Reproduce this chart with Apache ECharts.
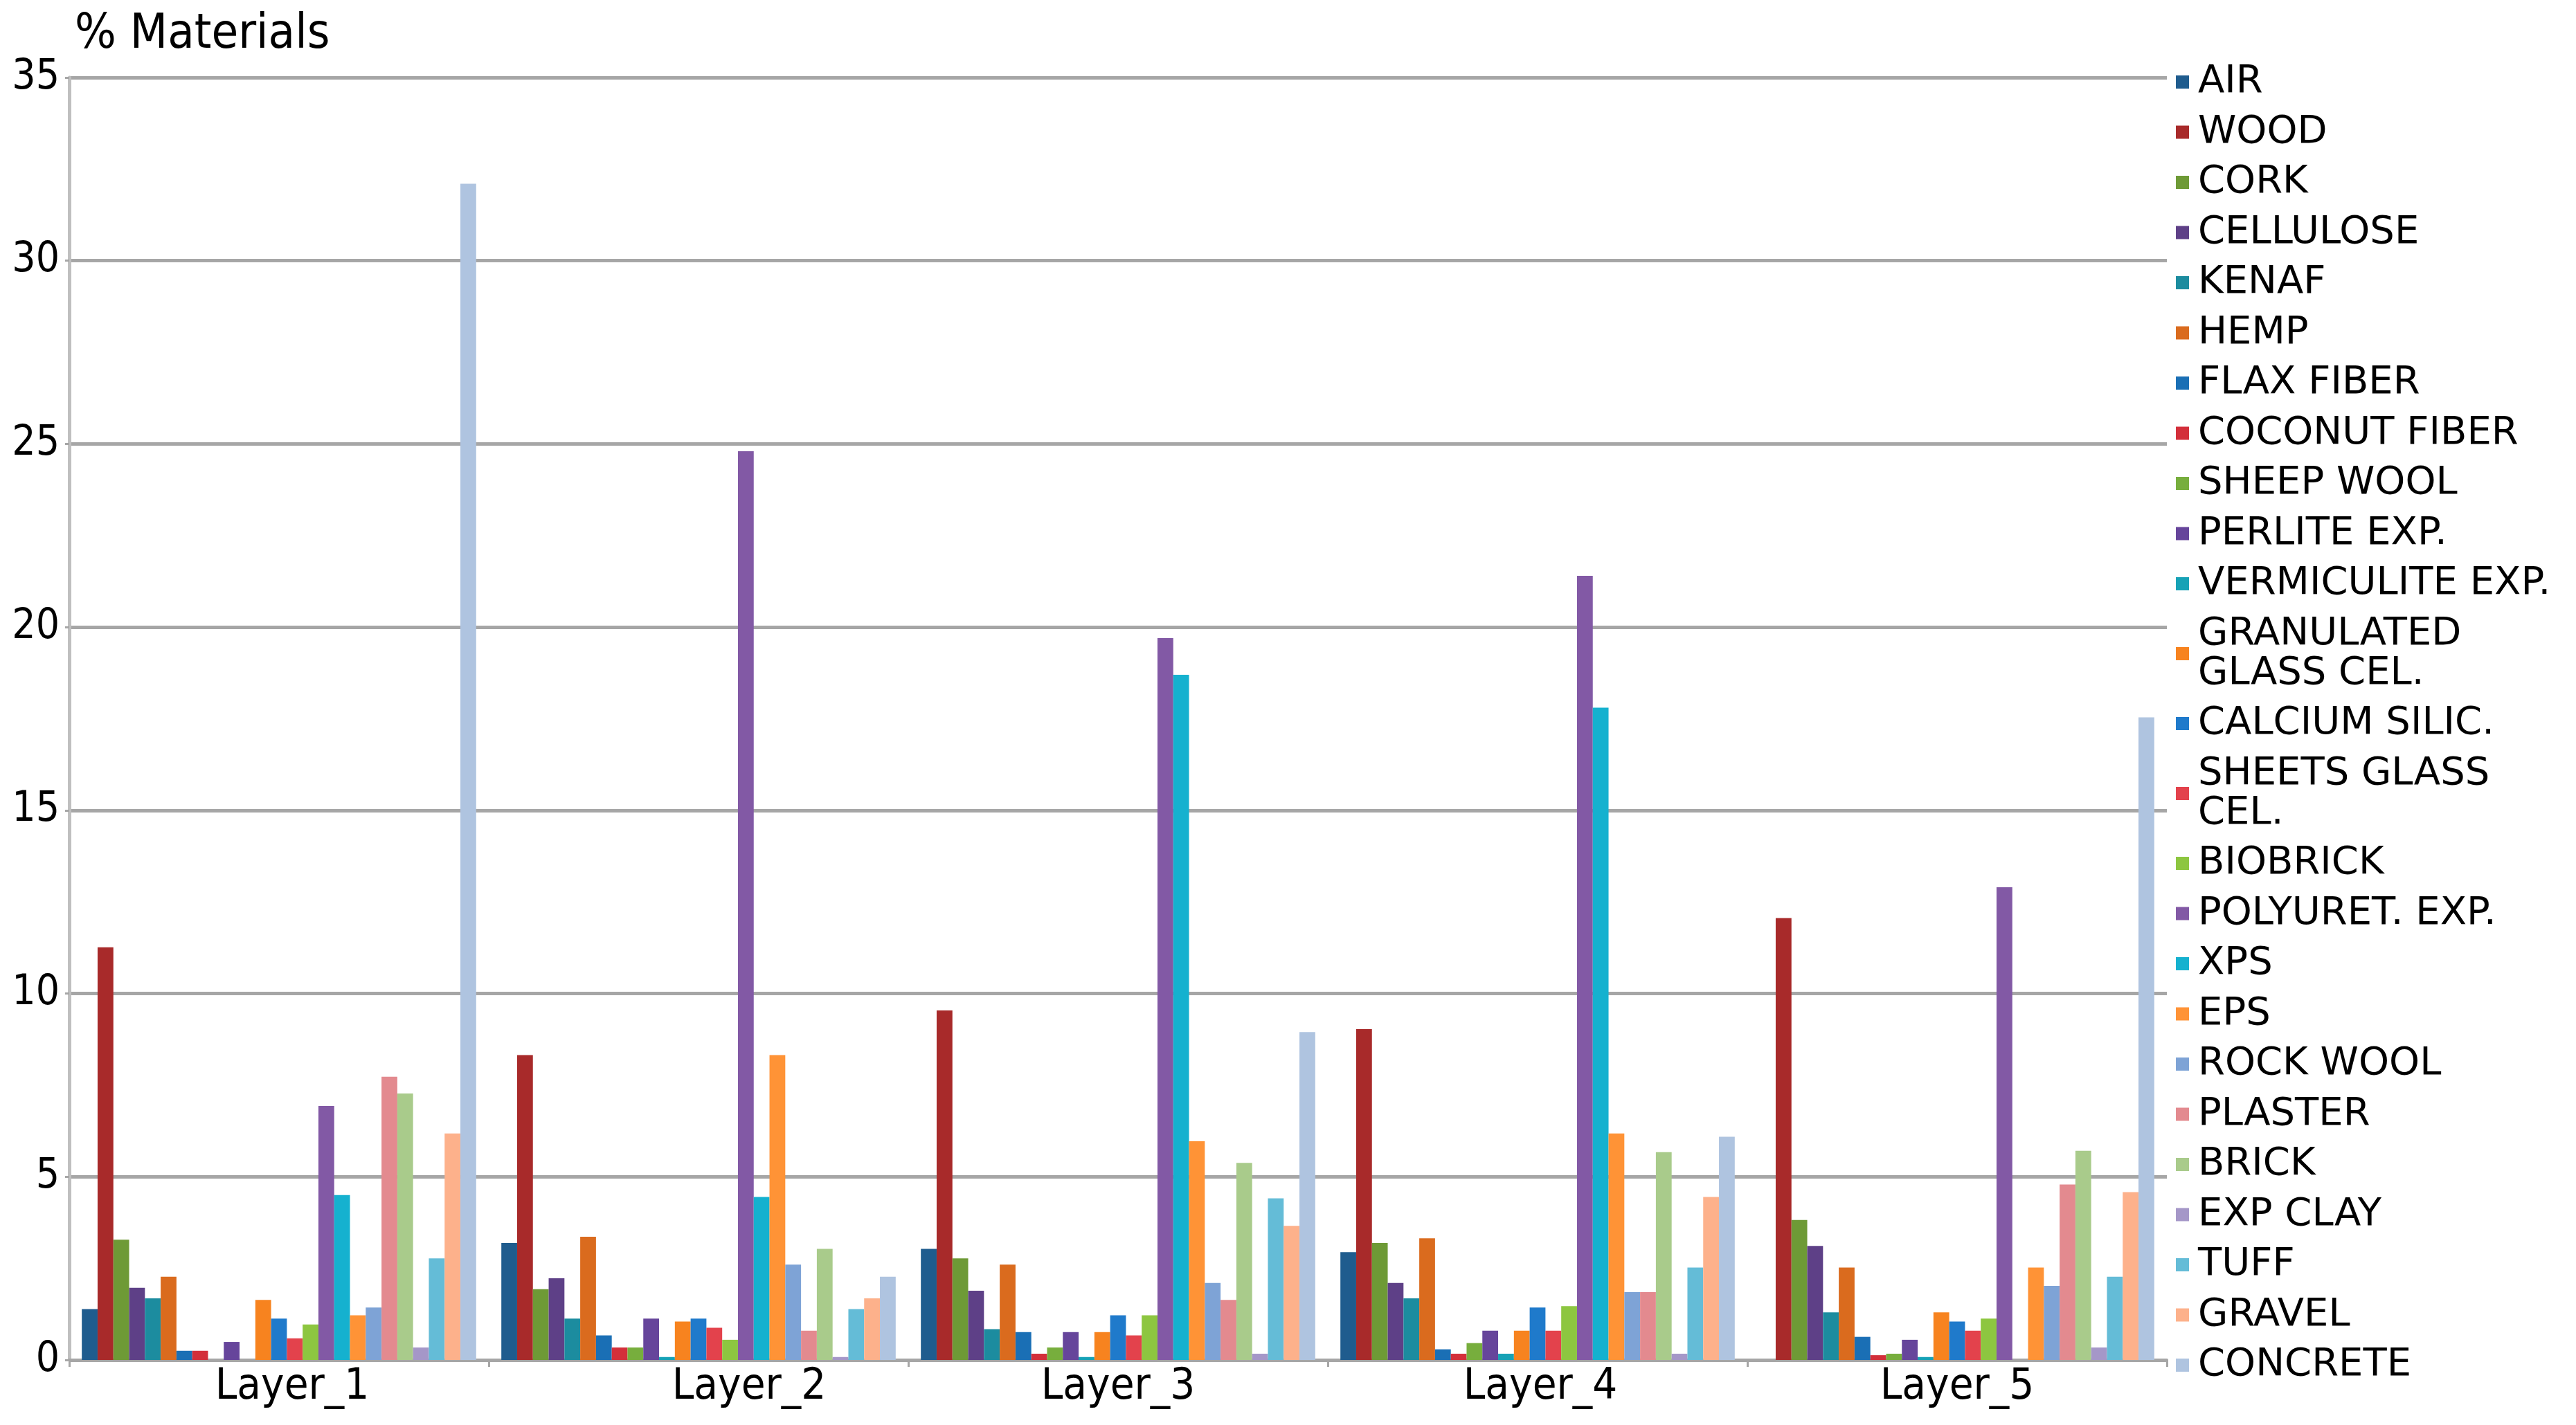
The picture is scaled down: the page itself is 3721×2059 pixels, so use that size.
<!DOCTYPE html>
<html>
<head>
<meta charset="utf-8">
<script src="https://cdn.jsdelivr.net/npm/echarts@6/dist/echarts.min.js"></script>
<style>
html,body{margin:0;padding:0;background:#fff;}
#chart{width:3721px;height:2059px;}
</style>
</head>
<body>
<div id="chart"></div>
<script>
// ---- DATA ----
const categories = ['Layer_1', 'Layer_2', 'Layer_3', 'Layer_4', 'Layer_5'];
const yTicks = [0, 5, 10, 15, 20, 25, 30, 35];
const yTitle = '% Materials';

const seriesNames = ['AIR', 'WOOD', 'CORK', 'CELLULOSE', 'KENAF', 'HEMP', 'FLAX FIBER',
  'COCONUT FIBER', 'SHEEP WOOL', 'PERLITE EXP.', 'VERMICULITE EXP.', 'GRANULATED GLASS CEL.',
  'CALCIUM SILIC.', 'SHEETS GLASS CEL.', 'BIOBRICK', 'POLYURET. EXP.', 'XPS', 'EPS',
  'ROCK WOOL', 'PLASTER', 'BRICK', 'EXP CLAY', 'TUFF', 'GRAVEL', 'CONCRETE'];

const air          = [1.39, 3.19, 3.03, 2.94, 0];
const wood         = [11.26, 8.32, 9.54, 9.03, 12.06];
const cork         = [3.28, 1.93, 2.77, 3.19, 3.82];
const cellulose    = [1.97, 2.23, 1.89, 2.10, 3.11];
const kenaf        = [1.68, 1.13, 0.84, 1.68, 1.30];
const hemp         = [2.27, 3.36, 2.60, 3.32, 2.52];
const flaxFiber    = [0.25, 0.67, 0.76, 0.29, 0.63];
const coconutFiber = [0.25, 0.34, 0.17, 0.17, 0.13];
const sheepWool    = [0, 0.34, 0.34, 0.46, 0.17];
const perliteExp   = [0.49, 1.13, 0.76, 0.80, 0.55];
const vermiculite  = [0, 0.08, 0.08, 0.17, 0.08];
const granGlassCel = [1.64, 1.05, 0.76, 0.80, 1.30];
const calciumSilic = [1.13, 1.13, 1.22, 1.43, 1.05];
const sheetsGlass  = [0.59, 0.88, 0.67, 0.80, 0.80];
const biobrick     = [0.97, 0.55, 1.22, 1.47, 1.13];
const polyuretExp  = [6.93, 24.8, 19.7, 21.4, 12.9];
const xps          = [4.50, 4.45, 18.7, 17.8, 0];
const eps          = [1.22, 8.32, 5.97, 6.18, 2.52];
const rockWool     = [1.43, 2.60, 2.10, 1.85, 2.02];
const plaster      = [7.73, 0.80, 1.64, 1.85, 4.79];
const brick        = [7.27, 3.03, 5.38, 5.67, 5.71];
const expClay      = [0.34, 0.08, 0.17, 0.17, 0.34];
const tuff         = [2.77, 1.39, 4.41, 2.52, 2.27];
const gravel       = [6.18, 1.68, 3.66, 4.45, 4.58];
const concrete     = [32.1, 2.27, 8.95, 6.09, 17.54];

const seriesValues = [air, wood, cork, cellulose, kenaf, hemp, flaxFiber, coconutFiber,
  sheepWool, perliteExp, vermiculite, granGlassCel, calciumSilic, sheetsGlass, biobrick,
  polyuretExp, xps, eps, rockWool, plaster, brick, expClay, tuff, gravel, concrete];

// ---- STYLE ----
const colors = ['#1F5C8E', '#A82A2A', '#6E9A36', '#5E4087', '#1C8C9F', '#DA6B1E', '#1A6FB5',
  '#D32F3A', '#77AE3D', '#66459B', '#16A2B6', '#F7831F', '#1F7ACB', '#E3424C', '#8DC640',
  '#8259A5', '#15B1CF', '#FF9336', '#7EA3D6', '#E38A8F', '#A9CB8B', '#A597C8', '#64BCD7',
  '#FDB18B', '#AFC4E0'];
// left padding (px) applied to each category label, as placed in the original
const labelShift = [38, 146, 0, 8, 0];

const axisFont = '"DejaVu Sans Condensed", "Liberation Sans Narrow", "DejaVu Sans", sans-serif';
const legendFont = '"DejaVu Sans", Verdana, sans-serif';

const chart = echarts.init(document.getElementById('chart'), null, {renderer: 'canvas'});

const series = seriesNames.map((name, i) => ({
  name: name,
  type: 'bar',
  data: seriesValues[i],
  barGap: '0%',
  barCategoryGap: '6%',
  itemStyle: {color: colors[i]},
  emphasis: {disabled: true}
}));

const rich = {};
labelShift.forEach((p, i) => {
  rich['c' + i] = {fontFamily: axisFont, fontSize: 63, color: '#000', padding: [0, 0, 0, p]};
});

chart.setOption({
  animation: false,
  backgroundColor: '#ffffff',
  title: {
    text: yTitle,
    left: 108,
    top: 16,
    padding: 0,
    textStyle: {fontFamily: axisFont, fontSize: 70, fontWeight: 'normal', color: '#000'}
  },
  grid: {left: 100, right: 591, top: 112, bottom: 94, containLabel: false},
  legend: {
    orient: 'vertical',
    left: 3143,
    top: 90,
    padding: 0,
    icon: 'rect',
    itemWidth: 19,
    itemHeight: 19,
    itemGap: 15.5,
    data: seriesNames,
    formatter: function (n) {
      if (n === 'GRANULATED GLASS CEL.') return 'GRANULATED\nGLASS CEL.';
      if (n === 'SHEETS GLASS CEL.') return 'SHEETS GLASS\nCEL.';
      return n;
    },
    textStyle: {fontFamily: legendFont, fontSize: 56, lineHeight: 57, color: '#000', padding: [0, 0, 0, 8]}
  },
  xAxis: {
    type: 'category',
    data: categories,
    axisLine: {show: true, lineStyle: {color: '#A6A6A6', width: 4}},
    axisTick: {show: true, length: 10, lineStyle: {color: '#A6A6A6', width: 3}},
    axisLabel: {
      margin: 8,
      formatter: function (v, idx) { return '{c' + idx + '|' + v + '}'; },
      rich: rich
    }
  },
  yAxis: {
    type: 'value',
    min: yTicks[0],
    max: yTicks[yTicks.length - 1],
    interval: yTicks[1] - yTicks[0],
    axisLine: {show: true, lineStyle: {color: '#BFBFBF', width: 5}},
    axisTick: {show: true, length: 6, lineStyle: {color: '#A6A6A6', width: 3}},
    splitLine: {show: true, lineStyle: {color: '#A6A6A6', width: 5}},
    axisLabel: {fontFamily: axisFont, fontSize: 60, color: '#000', margin: 14}
  },
  series: series
});
</script>
</body>
</html>
